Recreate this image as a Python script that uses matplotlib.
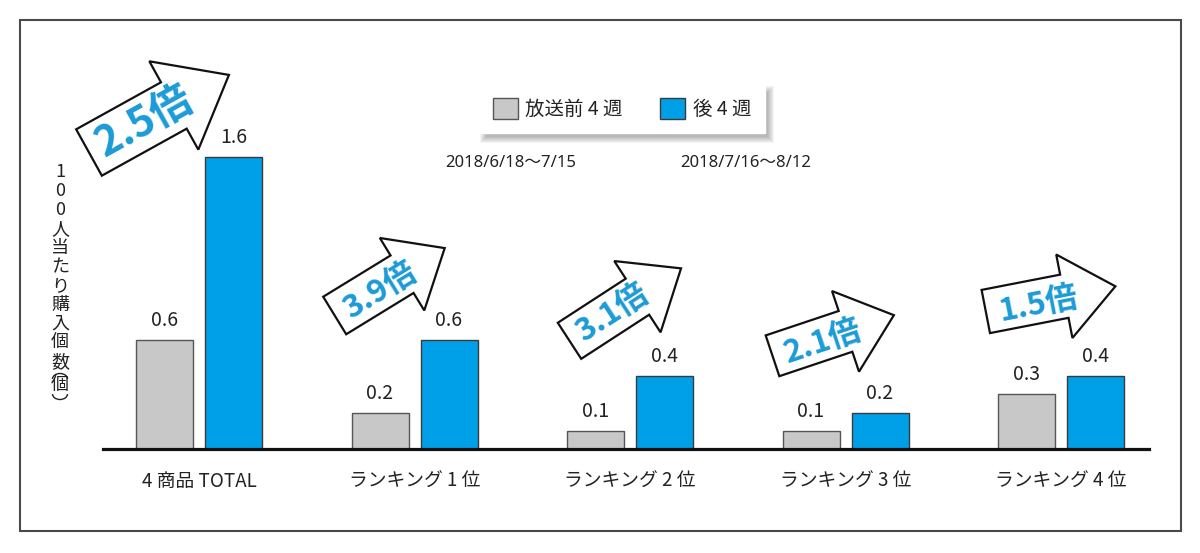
import matplotlib
matplotlib.use("Agg")
import matplotlib.pyplot as plt
from matplotlib.patches import Polygon, Rectangle, Arc
import numpy as np

plt.rcParams['font.family'] = ['Noto Sans CJK JP', 'DejaVu Sans']

# ---- data ----
categories = ['4 商品 TOTAL', 'ランキング 1 位', 'ランキング 2 位', 'ランキング 3 位', 'ランキング 4 位']
before = [0.6, 0.2, 0.1, 0.1, 0.3]
after = [1.6, 0.6, 0.4, 0.2, 0.4]
ratio_labels = ['2.5倍', '3.9倍', '3.1倍', '2.1倍', '1.5倍']
series_labels = ['放送前 4 週', '後 4 週']
period_labels = ['2018/6/18～7/15', '2018/7/16～8/12']
ylabel_chars = ['1', '0', '0', '人', '当', 'た', 'り', '購', '入', '個', '数']
ylabel_paren = '個'

GRAY = '#C8C8C8'
BLUE = '#00A0E9'
TXTBLUE = '#1B9BD7'
W, H = 1200, 553

fig = plt.figure(figsize=(W / 100, H / 100), dpi=100)

# overlay axes in pixel coordinates (decorations), drawn below main axes
ov = fig.add_axes([0, 0, 1, 1], zorder=0)
ov.set_xlim(0, W)
ov.set_ylim(H, 0)
ov.axis('off')

# main bar axes
ax = fig.add_axes([103 / W, (H - 449) / H, 1046 / W, 1.8 * 182.5 / H], zorder=1)
ax.patch.set_visible(False)
x = np.arange(len(categories))
bw = 57 / 215.5
off = 34.5 / 215.5
b1 = ax.bar(x - off, before, bw, color=GRAY, edgecolor='#555555', linewidth=1.0, label=series_labels[0])
b2 = ax.bar(x + off, after, bw, color=BLUE, edgecolor='#3a3a3a', linewidth=1.0, label=series_labels[1])
ax.set_xlim(-96 / 215.5, 950 / 215.5)
ax.set_ylim(0, 1.8)
for s in ['top', 'right', 'left']:
    ax.spines[s].set_visible(False)
ax.spines['bottom'].set_linewidth(2.3)
ax.spines['bottom'].set_color('#111111')
ax.set_yticks([])
ax.set_xticks(x)
ax.set_xticklabels(categories, fontsize=13.5, color='#222222')
ax.tick_params(axis='x', length=0, pad=16)

for rects, vals in [(b1, before), (b2, after)]:
    for r, v in zip(rects, vals):
        ax.annotate(f'{v:.1f}', (r.get_x() + r.get_width() / 2, v),
                    xytext=(0, 14), textcoords='offset points',
                    ha='center', va='center', fontsize=14, color='#222222')

leg = ax.legend(handles=[b1, b2], labels=series_labels, ncol=2, fontsize=14,
                loc='upper left', bbox_to_anchor=(479 / W, 1 - 84 / H),
                bbox_transform=fig.transFigure, borderaxespad=0,
                handlelength=1.29, handleheight=1.29, handletextpad=0.4,
                columnspacing=1.9, borderpad=0.7, frameon=True, fancybox=False,
                edgecolor='white', facecolor='white', framealpha=1)
for t in leg.get_texts():
    t.set_color('#222222')

# frame
ov.add_patch(Rectangle((20, 20), 1161, 511, fill=False, edgecolor='#4a4a4a', linewidth=1.5))

# period labels
for px, lab in zip([511, 746], period_labels):
    ov.text(px, 163, lab, ha='center', va='center', fontsize=12, color='#222222',
            family=['Noto Sans', 'Noto Sans CJK JP'])

# vertical y label
yc = 172
for ch in ylabel_chars:
    ov.text(60, yc, ch, ha='center', va='center', fontsize=13, color='#222222')
    yc += 19
ov.add_patch(Arc((60, 379), 15, 11, theta1=180, theta2=360, color='#222222', linewidth=1.0))
ov.text(60, 386, ylabel_paren, ha='center', va='center', fontsize=13, color='#222222')
ov.add_patch(Arc((60, 394), 15, 11, theta1=0, theta2=180, color='#222222', linewidth=1.0))

# block arrows: tail centre, angle, body length, body width, head length, head width, text centre, font size
arrows = [
    ((89, 152.5), 29, 97, 53, 63, 101, (144, 122), 30),
    ((334.7, 315.5), 31.5, 79, 44, 50, 85, (380, 291), 23),
    ((569.5, 340.8), 33, 81, 43, 52, 85, (612, 313), 23),
    ((772.5, 355.8), 18.5, 77, 43, 51, 85, (823, 342), 23),
    ((985.8, 311.5), 11, 80, 44, 52, 85, (1038, 305), 23),
]
for (c, a, L, bwid, hl, hw, tc, fs), lab in zip(arrows, ratio_labels):
    ar = np.radians(a)
    u = np.array([np.cos(ar), -np.sin(ar)])
    v = np.array([-np.sin(ar), -np.cos(ar)])
    local = [(0, -bwid / 2), (L, -bwid / 2), (L, -hw / 2), (L + hl, 0),
             (L, hw / 2), (L, bwid / 2), (0, bwid / 2)]
    pts = [np.array(c) + px * u + py * v for px, py in local]
    ov.add_patch(Polygon(pts, closed=True, facecolor='white', edgecolor='#111111',
                         linewidth=1.6, joinstyle='miter'))
    ov.text(tc[0], tc[1], lab, rotation=a, rotation_mode='anchor', ha='center', va='center',
            fontsize=fs, fontweight='bold', color=TXTBLUE)

# blurred legend shadow
fig.canvas.draw()
bb = leg.get_window_extent()
x0, w, h = bb.x0, bb.width, bb.height
ytop = H - bb.y1
for i in range(7):
    r = 4 - i * 1.0
    ov.add_patch(Rectangle((x0 + 5 - r, ytop + 6 - r), w + 2 * r, h + 2 * r,
                           facecolor='black', edgecolor='none', alpha=0.045))

fig.savefig('out.png', dpi=100)
